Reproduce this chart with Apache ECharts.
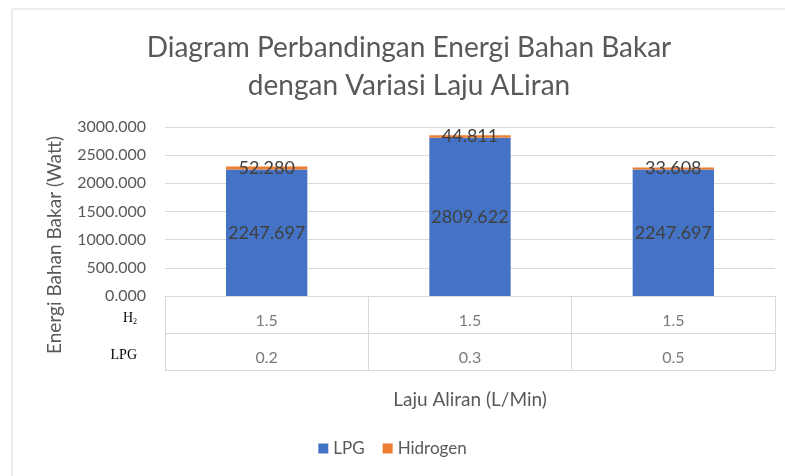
<!DOCTYPE html>
<html>
<head>
<meta charset="utf-8">
<script src="https://cdn.jsdelivr.net/npm/echarts@6/dist/echarts.min.js"></script>
<style>
  html, body { margin: 0; padding: 0; background: #fff; }
  #chart { width: 785px; height: 476px; }
</style>
</head>
<body>
<div id="chart"></div>
<script>
// data
const flowCats = ['0.2 / 1.5', '0.3 / 1.5', '0.5 / 1.5'];
const lpgEnergy = [2247.697, 2809.622, 2247.697];
const h2Energy = [52.280, 44.811, 33.608];
const tableRows = ['H2', 'LPG'];
const h2Flow = [1.5, 1.5, 1.5];
const lpgFlow = [0.2, 0.3, 0.5];

const textCol = '#595959';
const gridCol = '#D9D9D9';
const font = 'Lato';

// cells for the data table under the chart
const cells = [];
h2Flow.forEach((v, i) => cells.push([i, 0, v]));
lpgFlow.forEach((v, i) => cells.push([i, 1, v]));

const chart = echarts.init(document.getElementById('chart'));
chart.setOption({
    animation: false,
    textStyle: { fontFamily: font },
    title: {
        text: 'Diagram Perbandingan Energi Bahan Bakar\ndengan Variasi Laju ALiran',
        left: 404, top: 24, textAlign: 'center',
        textStyle: { color: textCol, fontSize: 28, fontWeight: 'normal', fontFamily: font, lineHeight: 38 }
    },
    legend: {
        bottom: 14, left: 'center',
        itemWidth: 10, itemHeight: 10, itemGap: 18,
        icon: 'rect',
        textStyle: { color: textCol, fontSize: 17, fontFamily: font },
        data: ['LPG', 'Hidrogen']
    },
    graphic: [
        { type: 'rect', shape: { x: 12, y: 9, width: 800, height: 500 }, style: { fill: 'none', stroke: gridCol, lineWidth: 1 }, silent: true },
        {
            type: 'text', x: 55, y: 245, rotation: Math.PI / 2,
            style: { text: 'Energi Bahan Bakar (Watt)', fill: textCol, fontSize: 19, fontFamily: font, align: 'center', verticalAlign: 'middle' }
        }
    ],
    grid: [
        { left: 165, right: 10, top: 127, height: 169 },
        { left: 165, right: 10, top: 296, height: 74 }
    ],
    xAxis: [
        {
            gridIndex: 0, type: 'category', data: flowCats,
            axisLine: { show: true, lineStyle: { color: gridCol } },
            axisTick: { show: false }, axisLabel: { show: false }
        },
        {
            gridIndex: 1, type: 'category', data: flowCats,
            axisLine: { show: false }, axisTick: { show: false }, axisLabel: { show: false },
            splitLine: { show: true, interval: 0, lineStyle: { color: gridCol } },
            name: 'Laju Aliran (L/Min)', nameLocation: 'middle', nameGap: 20,
            nameTextStyle: { color: textCol, fontSize: 19, fontFamily: font }
        }
    ],
    yAxis: [
        {
            gridIndex: 0, type: 'value', min: 0, max: 3000, interval: 500,
            axisLine: { show: false }, axisTick: { show: false },
            axisLabel: { color: textCol, fontSize: 16, margin: 19, formatter: v => v.toFixed(3) },
            splitLine: { lineStyle: { color: gridCol } }
        },
        {
            gridIndex: 1, type: 'category', data: tableRows, inverse: true,
            axisLine: { show: false }, axisTick: { show: false },
            axisLabel: {
                margin: 28, color: '#000', fontSize: 14, fontFamily: 'Liberation Serif',
                padding: [8, 0, 0, 0],
                formatter: v => v === 'H2' ? 'H{s|2}' : v,
                rich: { s: { fontSize: 8, fontFamily: 'Liberation Serif', color: '#000', verticalAlign: 'bottom', padding: [6, 0, 0, 0] } }
            },
            splitLine: { show: true, interval: 0, lineStyle: { color: gridCol } }
        }
    ],
    series: [
        {
            name: 'LPG', type: 'bar', stack: 'e', xAxisIndex: 0, yAxisIndex: 0,
            data: lpgEnergy, barWidth: '40%',
            itemStyle: { color: '#4472C4' },
            label: { show: true, position: 'inside', color: '#404040', fontSize: 18, formatter: p => p.value.toFixed(3) }
        },
        {
            name: 'Hidrogen', type: 'bar', stack: 'e', xAxisIndex: 0, yAxisIndex: 0,
            data: h2Energy, barWidth: '40%',
            itemStyle: { color: '#ED7D31' },
            label: { show: true, position: 'inside', color: '#404040', fontSize: 18, formatter: p => p.value.toFixed(3) }
        },
        {
            type: 'scatter', xAxisIndex: 1, yAxisIndex: 1, symbolSize: 0,
            data: cells,
            label: { show: true, position: 'inside', offset: [0, 6], color: textCol, fontSize: 16, formatter: p => String(p.value[2]) }
        }
    ]
});
</script>
</body>
</html>
